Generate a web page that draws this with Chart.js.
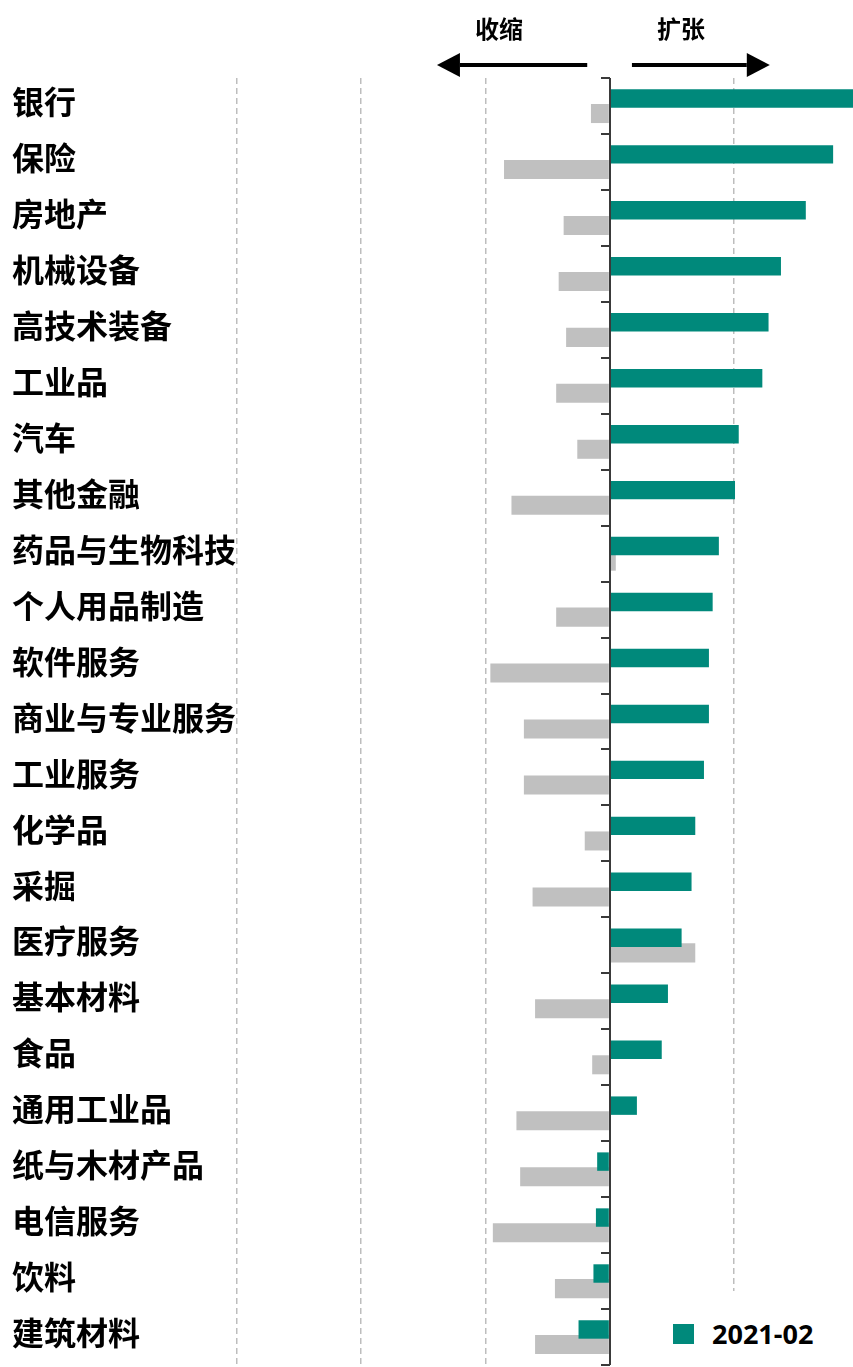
<!DOCTYPE html>
<html>
<head>
<meta charset="utf-8">
<script src="https://cdn.jsdelivr.net/npm/chart.js@4/dist/chart.umd.min.js"></script>
<style>
  html, body { margin: 0; padding: 0; background: #fff; }
  #wrap { position: relative; width: 853px; height: 1367px; }
  canvas { position: absolute; left: 0; top: 0; }
  .note { position: absolute; font-family: "Noto Sans CJK SC", sans-serif; font-weight: bold; font-size: 24px; line-height: 1; color: #000; white-space: nowrap; }
  #legend { position: absolute; left: 655px; top: 1291px; width: 198px; height: 76px; background: #fff; }
  #legend .item { position: absolute; left: 18px; top: 24px; display: flex; align-items: center; font-family: "Open Sans", "Noto Sans", sans-serif; font-weight: bold; font-size: 27px; color: #000; }
  #legend .sw { width: 21px; height: 20px; background: #00897B; margin-right: 18px; }
</style>
</head>
<body>
<div id="wrap">
  <canvas id="c" width="853" height="1367"></canvas>
  <div class="note" style="left:475px; top:16px;">收缩</div>
  <div class="note" style="left:657px; top:16px;">扩张</div>
  <div id="legend"><div class="item"><div class="sw"></div><span>2021-02</span></div></div>
</div>
<script>
const categories = ["银行","保险","房地产","机械设备","高技术装备","工业品","汽车","其他金融","药品与生物科技","个人用品制造","软件服务","商业与专业服务","工业服务","化学品","采掘","医疗服务","基本材料","食品","通用工业品","纸与木材产品","电信服务","饮料","建筑材料"];
const current = [1.96, 1.80, 1.58, 1.38, 1.28, 1.23, 1.04, 1.01, 0.88, 0.83, 0.80, 0.80, 0.76, 0.69, 0.66, 0.58, 0.47, 0.42, 0.22, -0.10, -0.11, -0.13, -0.25];
const previous = [-0.15, -0.85, -0.37, -0.41, -0.35, -0.43, -0.26, -0.79, 0.05, -0.43, -0.96, -0.69, -0.69, -0.20, -0.62, 0.69, -0.60, -0.14, -0.75, -0.72, -0.94, -0.44, -0.60];
const currentLabel = "2021-02";
const previousLabel = "前值";
const xMin = -3, xMax = 1.96;

const axisPlugin = {
  id: 'zeroAxis',
  afterDatasetsDraw(chart) {
    const {ctx, chartArea, scales} = chart;
    const xs = scales.x, ys = scales.y;
    const x0 = Math.round(xs.getPixelForValue(0));
    ctx.save();
    ctx.strokeStyle = '#3a3a3a';
    ctx.lineWidth = 2;
    ctx.beginPath();
    ctx.moveTo(x0, chartArea.top);
    ctx.lineTo(x0, chartArea.bottom);
    ctx.stroke();
    const n = categories.length;
    const band = ys.getPixelForValue(1) - ys.getPixelForValue(0);
    for (let i = 0; i <= n; i++) {
      let yp = (i < n) ? ys.getPixelForValue(i) - band / 2 : ys.getPixelForValue(n - 1) + band / 2;
      yp = Math.round(yp);
      ctx.beginPath();
      ctx.moveTo(x0 - 9, yp);
      ctx.lineTo(x0, yp);
      ctx.stroke();
    }
    ctx.restore();
  },
  afterDraw(chart) {
    const {ctx, chartArea, scales} = chart;
    const xs = scales.x;
    const y = chartArea.top - 13;
    const drawArrow = (from, to) => {
      const x1 = xs.getPixelForValue(from), x2 = xs.getPixelForValue(to);
      const dir = Math.sign(x2 - x1);
      const headLen = 23, headHalf = 12;
      ctx.save();
      ctx.strokeStyle = '#000';
      ctx.fillStyle = '#000';
      ctx.lineWidth = 4;
      ctx.beginPath();
      ctx.moveTo(x1, y);
      ctx.lineTo(x2 - dir * headLen, y);
      ctx.stroke();
      ctx.beginPath();
      ctx.moveTo(x2, y);
      ctx.lineTo(x2 - dir * headLen, y - headHalf);
      ctx.lineTo(x2 - dir * headLen, y + headHalf);
      ctx.closePath();
      ctx.fill();
      ctx.restore();
    };
    drawArrow(-0.18, -1.39);
    drawArrow(0.18, 1.29);
  }
};

new Chart(document.getElementById('c'), {
  type: 'bar',
  data: {
    labels: categories,
    datasets: [
      { label: currentLabel, data: current, backgroundColor: '#00897B', borderWidth: 0, categoryPercentage: 0.54, barPercentage: 1.22 },
      { label: previousLabel, data: previous, backgroundColor: '#C0C0C0', borderWidth: 0, categoryPercentage: 0.54, barPercentage: 1.26 }
    ]
  },
  options: {
    indexAxis: 'y',
    responsive: false,
    animation: false,
    layout: { padding: { top: 78, bottom: 2, left: 12, right: 0 } },
    plugins: { legend: { display: false }, tooltip: { enabled: false } },
    scales: {
      x: {
        min: xMin, max: xMax,
        ticks: { display: false, stepSize: 1, includeBounds: false },
        grid: {
          drawTicks: false,
          color: (ctx) => (ctx.tick && ctx.tick.value === 0) ? 'rgba(0,0,0,0)' : '#BDBDBD',
          lineWidth: 1.5
        },
        border: { display: false, dash: [6, 4] },
        afterFit: (s) => { s.height = 0; s.paddingLeft = 0; s.paddingRight = 0; }
      },
      y: {
        grid: { display: false },
        border: { display: false },
        ticks: {
          crossAlign: 'far',
          color: '#000',
          labelOffset: -4,
          font: { family: '"Noto Sans CJK SC", sans-serif', size: 32, weight: 'bold' }
        },
        afterFit: (s) => { s.width = 225; s.paddingTop = 0; s.paddingBottom = 0; }
      }
    }
  },
  plugins: [axisPlugin]
});
</script>
</body>
</html>
